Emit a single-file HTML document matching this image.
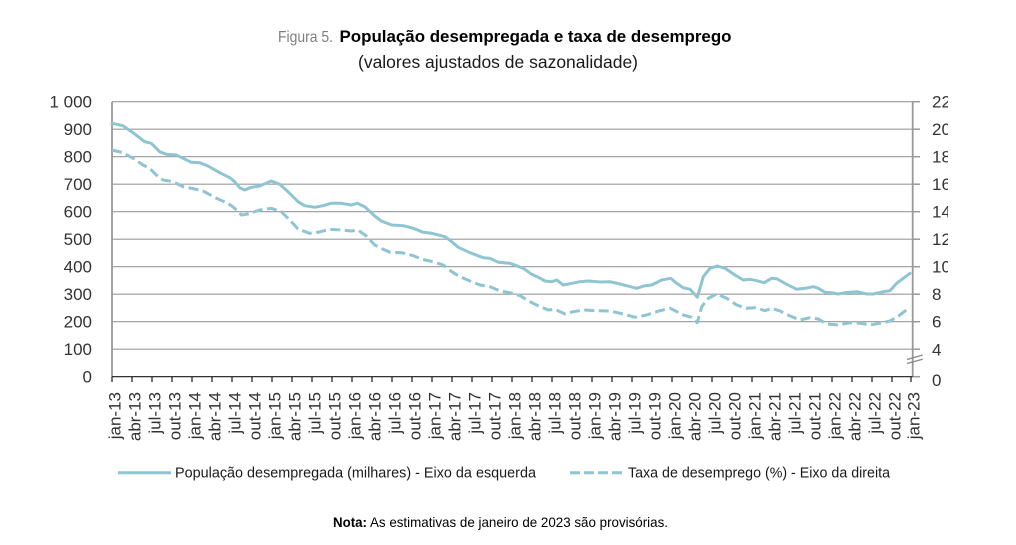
<!DOCTYPE html>
<html>
<head>
<meta charset="utf-8">
<style>
  html, body { margin:0; padding:0; background:#ffffff; }
  svg { display:block; }
  text { font-family: "Liberation Sans", Arial, sans-serif; }
</style>
</head>
<body>
<svg width="1016" height="545" viewBox="0 0 1016 545" xmlns="http://www.w3.org/2000/svg">
  <rect x="0" y="0" width="1016" height="545" fill="#ffffff"/>

  <!-- Title -->
  <text x="278" y="42" font-size="16" fill="#7f7f7f" textLength="55" lengthAdjust="spacingAndGlyphs">Figura 5.</text>
  <text x="339.5" y="42" font-size="17" font-weight="bold" fill="#000000" textLength="392" lengthAdjust="spacingAndGlyphs">População desempregada e taxa de desemprego</text>
  <text x="358" y="68" font-size="17.5" fill="#1a1a1a" textLength="280" lengthAdjust="spacingAndGlyphs">(valores ajustados de sazonalidade)</text>

  <!-- Gridlines -->
  <g stroke="#9a9a9a" stroke-width="1.2">
    <line x1="112" y1="101.7" x2="912.7" y2="101.7"/>
    <line x1="112" y1="129.2" x2="912.7" y2="129.2"/>
    <line x1="112" y1="156.7" x2="912.7" y2="156.7"/>
    <line x1="112" y1="184.2" x2="912.7" y2="184.2"/>
    <line x1="112" y1="211.7" x2="912.7" y2="211.7"/>
    <line x1="112" y1="239.2" x2="912.7" y2="239.2"/>
    <line x1="112" y1="266.7" x2="912.7" y2="266.7"/>
    <line x1="112" y1="294.2" x2="912.7" y2="294.2"/>
    <line x1="112" y1="321.7" x2="912.7" y2="321.7"/>
    <line x1="112" y1="349.2" x2="912.7" y2="349.2"/>
  </g>

  <!-- Left axis -->
  <line x1="112" y1="101.7" x2="112" y2="376.7" stroke="#999999" stroke-width="1.8"/>
  <g font-size="17" fill="#333333" text-anchor="end">
    <text x="92" y="107.7">1 000</text>
    <text x="92" y="135.2">900</text>
    <text x="92" y="162.7">800</text>
    <text x="92" y="190.2">700</text>
    <text x="92" y="217.7">600</text>
    <text x="92" y="245.2">500</text>
    <text x="92" y="272.7">400</text>
    <text x="92" y="300.2">300</text>
    <text x="92" y="327.7">200</text>
    <text x="92" y="355.2">100</text>
    <text x="92" y="382.7">0</text>
  </g>

  <!-- Right axis -->
  <line x1="912.7" y1="101.7" x2="912.7" y2="376.7" stroke="#999999" stroke-width="1.8"/>
  <g stroke="#999999" stroke-width="1.5">
    <line x1="912.7" y1="101.7" x2="920" y2="101.7"/>
    <line x1="912.7" y1="129.2" x2="920" y2="129.2"/>
    <line x1="912.7" y1="156.7" x2="920" y2="156.7"/>
    <line x1="912.7" y1="184.2" x2="920" y2="184.2"/>
    <line x1="912.7" y1="211.7" x2="920" y2="211.7"/>
    <line x1="912.7" y1="239.2" x2="920" y2="239.2"/>
    <line x1="912.7" y1="266.7" x2="920" y2="266.7"/>
    <line x1="912.7" y1="294.2" x2="920" y2="294.2"/>
    <line x1="912.7" y1="321.7" x2="920" y2="321.7"/>
    <line x1="912.7" y1="349.2" x2="920" y2="349.2"/>
    <line x1="912.7" y1="376.7" x2="920" y2="376.7"/>
  </g>
  <!-- break marks -->
  <g stroke="#888888" stroke-width="1.3">
    <line x1="907" y1="359.5" x2="922.7" y2="355"/>
    <line x1="907" y1="363.5" x2="922.7" y2="359.2"/>
  </g>
  <defs>
    <clipPath id="rclip"><rect x="925" y="80" width="23" height="320"/></clipPath>
  </defs>
  <g font-size="17" fill="#333333" clip-path="url(#rclip)">
    <text x="932" y="107.7">22</text>
    <text x="932" y="135.2">20</text>
    <text x="932" y="162.7">18</text>
    <text x="932" y="190.2">16</text>
    <text x="932" y="217.7">14</text>
    <text x="932" y="245.2">12</text>
    <text x="932" y="272.7">10</text>
    <text x="932" y="300.2">8</text>
    <text x="932" y="327.7">6</text>
    <text x="932" y="355.7">4</text>
    <text x="932" y="386">0</text>
  </g>

  <!-- X axis -->
  <line x1="112" y1="376.7" x2="912.7" y2="376.7" stroke="#1a1a1a" stroke-width="1.2"/>
  <g stroke="#1a1a1a" stroke-width="1.2">
    <line x1="112" y1="376.7" x2="112" y2="382"/><line x1="132" y1="376.7" x2="132" y2="382"/><line x1="152" y1="376.7" x2="152" y2="382"/><line x1="172" y1="376.7" x2="172" y2="382"/>
    <line x1="192" y1="376.7" x2="192" y2="382"/><line x1="212" y1="376.7" x2="212" y2="382"/><line x1="232" y1="376.7" x2="232" y2="382"/><line x1="252" y1="376.7" x2="252" y2="382"/>
    <line x1="272" y1="376.7" x2="272" y2="382"/><line x1="292" y1="376.7" x2="292" y2="382"/><line x1="312" y1="376.7" x2="312" y2="382"/><line x1="332" y1="376.7" x2="332" y2="382"/>
    <line x1="352" y1="376.7" x2="352" y2="382"/><line x1="372" y1="376.7" x2="372" y2="382"/><line x1="392" y1="376.7" x2="392" y2="382"/><line x1="412" y1="376.7" x2="412" y2="382"/>
    <line x1="432" y1="376.7" x2="432" y2="382"/><line x1="452" y1="376.7" x2="452" y2="382"/><line x1="472" y1="376.7" x2="472" y2="382"/><line x1="492" y1="376.7" x2="492" y2="382"/>
    <line x1="512" y1="376.7" x2="512" y2="382"/><line x1="532" y1="376.7" x2="532" y2="382"/><line x1="552" y1="376.7" x2="552" y2="382"/><line x1="572" y1="376.7" x2="572" y2="382"/>
    <line x1="592" y1="376.7" x2="592" y2="382"/><line x1="612" y1="376.7" x2="612" y2="382"/><line x1="632" y1="376.7" x2="632" y2="382"/><line x1="652" y1="376.7" x2="652" y2="382"/>
    <line x1="672" y1="376.7" x2="672" y2="382"/><line x1="692" y1="376.7" x2="692" y2="382"/><line x1="712" y1="376.7" x2="712" y2="382"/><line x1="732" y1="376.7" x2="732" y2="382"/>
    <line x1="752" y1="376.7" x2="752" y2="382"/><line x1="772" y1="376.7" x2="772" y2="382"/><line x1="792" y1="376.7" x2="792" y2="382"/><line x1="812" y1="376.7" x2="812" y2="382"/>
    <line x1="832" y1="376.7" x2="832" y2="382"/><line x1="852" y1="376.7" x2="852" y2="382"/><line x1="872" y1="376.7" x2="872" y2="382"/><line x1="892" y1="376.7" x2="892" y2="382"/>
    <line x1="911" y1="376.7" x2="911" y2="382"/>
  </g>
  <g font-size="17" fill="#333333" text-anchor="end">
    <text transform="translate(120.5,392) rotate(-90)">jan-13</text>
    <text transform="translate(140.5,392) rotate(-90)">abr-13</text>
    <text transform="translate(160.5,392) rotate(-90)">jul-13</text>
    <text transform="translate(180.5,392) rotate(-90)">out-13</text>
    <text transform="translate(200.5,392) rotate(-90)">jan-14</text>
    <text transform="translate(220.5,392) rotate(-90)">abr-14</text>
    <text transform="translate(240.5,392) rotate(-90)">jul-14</text>
    <text transform="translate(260.5,392) rotate(-90)">out-14</text>
    <text transform="translate(280.5,392) rotate(-90)">jan-15</text>
    <text transform="translate(300.5,392) rotate(-90)">abr-15</text>
    <text transform="translate(320.5,392) rotate(-90)">jul-15</text>
    <text transform="translate(340.5,392) rotate(-90)">out-15</text>
    <text transform="translate(360.5,392) rotate(-90)">jan-16</text>
    <text transform="translate(380.5,392) rotate(-90)">abr-16</text>
    <text transform="translate(400.5,392) rotate(-90)">jul-16</text>
    <text transform="translate(420.5,392) rotate(-90)">out-16</text>
    <text transform="translate(440.5,392) rotate(-90)">jan-17</text>
    <text transform="translate(460.5,392) rotate(-90)">abr-17</text>
    <text transform="translate(480.5,392) rotate(-90)">jul-17</text>
    <text transform="translate(500.5,392) rotate(-90)">out-17</text>
    <text transform="translate(520.5,392) rotate(-90)">jan-18</text>
    <text transform="translate(540.5,392) rotate(-90)">abr-18</text>
    <text transform="translate(560.5,392) rotate(-90)">jul-18</text>
    <text transform="translate(580.5,392) rotate(-90)">out-18</text>
    <text transform="translate(600.5,392) rotate(-90)">jan-19</text>
    <text transform="translate(620.5,392) rotate(-90)">abr-19</text>
    <text transform="translate(640.5,392) rotate(-90)">jul-19</text>
    <text transform="translate(660.5,392) rotate(-90)">out-19</text>
    <text transform="translate(680.5,392) rotate(-90)">jan-20</text>
    <text transform="translate(700.5,392) rotate(-90)">abr-20</text>
    <text transform="translate(720.5,392) rotate(-90)">jul-20</text>
    <text transform="translate(740.5,392) rotate(-90)">out-20</text>
    <text transform="translate(760.5,392) rotate(-90)">jan-21</text>
    <text transform="translate(780.5,392) rotate(-90)">abr-21</text>
    <text transform="translate(800.5,392) rotate(-90)">jul-21</text>
    <text transform="translate(820.5,392) rotate(-90)">out-21</text>
    <text transform="translate(840.5,392) rotate(-90)">jan-22</text>
    <text transform="translate(860.5,392) rotate(-90)">abr-22</text>
    <text transform="translate(880.5,392) rotate(-90)">jul-22</text>
    <text transform="translate(900.5,392) rotate(-90)">out-22</text>
    <text transform="translate(919.5,392) rotate(-90)">jan-23</text>
  </g>

  <!-- Series: população desempregada (solid) -->
  <polyline fill="none" stroke="#8fc4d3" stroke-width="3" stroke-linejoin="round" stroke-linecap="round"
    points="112,123.3 123,125.7 134.7,134 144.7,141.7 151.3,143.3 159.7,151.7 166.3,154.3 176.3,155 183,158.3 191.3,162.3 199.7,162.7 208,166 219.7,172.7 229.7,177.7 234.7,181.7 239.7,187.7 244.7,190 251.3,187.3 259.7,186 271.3,181 279.7,184.3 288,191.7 298,201.7 304.7,205.7 314.7,207.3 323,205.7 331.3,203.3 341.3,203.3 351.3,205 357.3,203.3 364.7,206.7 374.7,216 381.3,221 391.7,225 403.3,225.7 413.3,228.3 423.3,232.3 431.7,233.3 445,236.7 451.7,241.7 458.3,247.3 470,252.7 483.3,257.7 490,258.3 498.3,262.3 510,263.3 523.3,268.3 531.7,274.3 538.3,277.3 545,281 551.7,281.7 556.7,280 563.3,285 571.7,283.3 580,281.7 588.3,281 600,282 610,281.7 620,284 636.7,288.3 645,285.7 651.7,285 661.7,280 670.7,278.3 676.7,283.3 683.3,287.7 690,289.3 697.3,297.3 703.3,276.7 710,268.3 717.3,266 725,268.3 735,275 743.3,280 750,279.3 756.7,280.7 764,282.7 771.7,278.3 776.7,278.7 786.7,284.3 796.7,289.3 805,288.3 813.3,286.7 818.3,288.3 825,292.3 831.7,292.7 838.3,294 845,292.7 856.7,291.7 866.7,294 873.3,294 883.3,291.7 890,290.7 896.7,283.3 910,273.3"/>

  <!-- Series: taxa de desemprego (dashed) -->
  <polyline fill="none" stroke="#8fc4d3" stroke-width="3" stroke-linejoin="round" stroke-dasharray="10 4.5"
    points="112,150 123,152.7 133,158.3 143,165 149.7,168.3 156.3,175 163,180 173,181.7 183,186.7 194.7,189 203,191 218,199 228,203.3 234.7,208.3 241.3,215 248,214 259.7,210 271.3,208.3 281.3,211.7 289.7,220 298,229 309.7,233.3 318,232.3 329.7,229.3 341.3,230 351.3,231 358,230 366.3,236 374.7,245 384.7,250 390,252.3 401.7,252.7 413.3,255.7 421.7,259.3 430,261 443.3,265 451.7,271.7 460,276.7 471.7,281.7 480,285 490,286.7 500,291 510,292.7 520,295.7 530,301.7 540,306.7 548.3,310 555,309.3 565,314 573.3,311.7 583.3,310 596.7,310.7 610,311 623.3,314 635,317.3 646.7,315 660,310.7 670,308.3 675,310.7 683.3,315 691.7,317.3 697.3,322.7 701.7,306.7 708.3,298.3 716.7,294 726.7,298.3 736.7,305 746.7,308.3 755,307.7 765,310.7 771.7,308.3 780,311 790,316 800,320 810,317.7 818.3,319 826.7,324 838.3,325 850,322.7 860,323.3 870,325 880,323.3 890,321 896.7,317.3 910,307.3"/>

  <!-- Legend -->
  <line x1="118" y1="472.7" x2="171" y2="472.7" stroke="#8fc4d3" stroke-width="3"/>
  <text x="175" y="477.5" font-size="15" fill="#1a1a1a" textLength="361" lengthAdjust="spacingAndGlyphs">População desempregada (milhares) - Eixo da esquerda</text>
  <line x1="570" y1="472.7" x2="622" y2="472.7" stroke="#8fc4d3" stroke-width="3" stroke-dasharray="10 4"/>
  <text x="628" y="477.5" font-size="15" fill="#1a1a1a" textLength="262" lengthAdjust="spacingAndGlyphs">Taxa de desemprego (%) - Eixo da direita</text>

  <!-- Note -->
  <text x="333" y="527" font-size="14" font-weight="bold" fill="#000000" textLength="34" lengthAdjust="spacingAndGlyphs">Nota:</text>
  <text x="370" y="527" font-size="14" fill="#000000" textLength="298" lengthAdjust="spacingAndGlyphs">As estimativas de janeiro de 2023 são provisórias.</text>
</svg>
</body>
</html>
